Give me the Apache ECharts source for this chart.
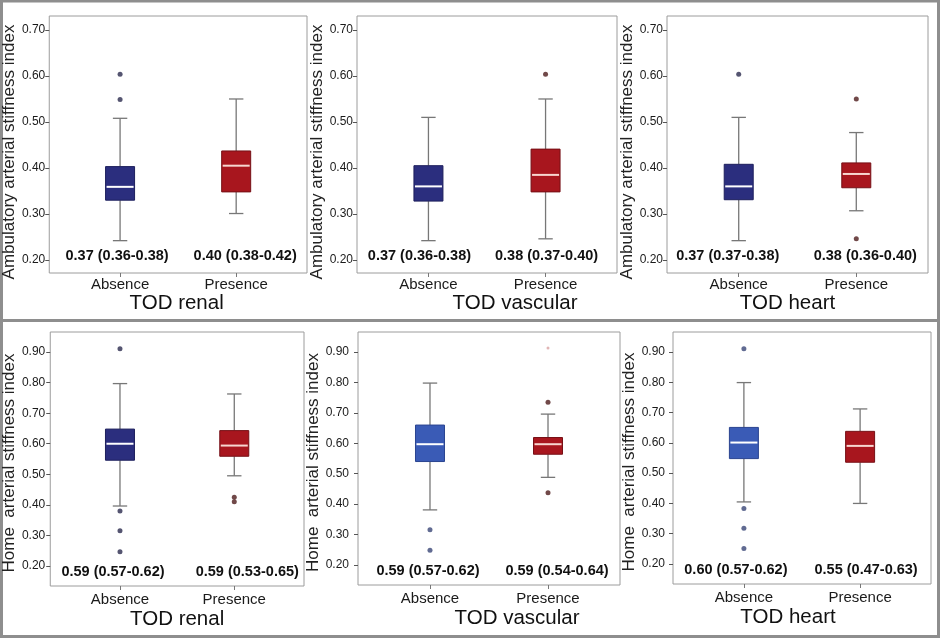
<!DOCTYPE html>
<html><head><meta charset="utf-8">
<script src="https://cdn.jsdelivr.net/npm/echarts@6/dist/echarts.min.js"></script>
<style>html,body{margin:0;padding:0;background:#fff}#c{width:944px;height:641px}</style>
</head><body><div id="c"></div>
<script>
// ---------------- DATA ----------------
const categories = ['Absence', 'Presence'];
const panelTitles = ['TOD renal', 'TOD vascular', 'TOD heart', 'TOD renal', 'TOD vascular', 'TOD heart'];
const yTitleAmbulatory = 'Ambulatory arterial stiffness index';
const yTitleHome = 'Home  arterial stiffness index';
const yTicksAmbulatory = [0.20, 0.30, 0.40, 0.50, 0.60, 0.70];
const yTicksHome = [0.20, 0.30, 0.40, 0.50, 0.60, 0.70, 0.80, 0.90];

// box stats per category: [min, Q1, median, Q3, max]
const ambRenalBox = [[0.242, 0.330, 0.359, 0.403, 0.508], [0.301, 0.348, 0.405, 0.437, 0.550]];
const ambRenalOutliers = [[0.549, 0.604], []];
const ambRenalLabels = ['0.37 (0.36-0.38)', '0.40 (0.38-0.42)'];

const ambVascularBox = [[0.242, 0.328, 0.360, 0.405, 0.510], [0.246, 0.348, 0.385, 0.441, 0.550]];
const ambVascularOutliers = [[], [0.604]];
const ambVascularLabels = ['0.37 (0.36-0.38)', '0.38 (0.37-0.40)'];

const ambHeartBox = [[0.242, 0.331, 0.360, 0.408, 0.510], [0.307, 0.357, 0.387, 0.411, 0.477]];
const ambHeartOutliers = [[0.604], [0.246, 0.550]];
const ambHeartLabels = ['0.37 (0.37-0.38)', '0.38 (0.36-0.40)'];

const homeRenalBox = [[0.396, 0.546, 0.600, 0.648, 0.797], [0.495, 0.559, 0.594, 0.643, 0.763]];
const homeRenalOutliers = [[0.911, 0.380, 0.315, 0.246], [0.425, 0.410]];
const homeRenalLabels = ['0.59 (0.57-0.62)', '0.59 (0.53-0.65)'];

const homeVascularBox = [[0.381, 0.540, 0.597, 0.660, 0.798], [0.488, 0.564, 0.597, 0.619, 0.696]];
const homeVascularOutliers = [[0.316, 0.248], [0.735, 0.437]];
const homeVascularExtremes = [[], [0.913]];
const homeVascularLabels = ['0.59 (0.57-0.62)', '0.59 (0.54-0.64)'];

const homeHeartBox = [[0.405, 0.548, 0.601, 0.651, 0.799], [0.400, 0.536, 0.590, 0.638, 0.712]];
const homeHeartOutliers = [[0.911, 0.383, 0.318, 0.251], []];
const homeHeartLabels = ['0.60 (0.57-0.62)', '0.55 (0.47-0.63)'];

// ---------------- LAYOUT / STYLE ----------------
const NAVY = '#2b2e7e', NAVY_EDGE = '#1d1f5c';
const LBLUE = '#3a5bb6', LBLUE_EDGE = '#2a4490';
const RED = '#a8161e', RED_EDGE = '#761016';
const FONT = 'Liberation Sans, Arial, sans-serif';

const panels = [
  {box: ambRenalBox, out: ambRenalOutliers, ext: [[], []], labels: ambRenalLabels, yTitle: yTitleAmbulatory, ticks: yTicksAmbulatory, row: 0, absFill: NAVY, absEdge: NAVY_EDGE},
  {box: ambVascularBox, out: ambVascularOutliers, ext: [[], []], labels: ambVascularLabels, yTitle: yTitleAmbulatory, ticks: yTicksAmbulatory, row: 0, absFill: NAVY, absEdge: NAVY_EDGE},
  {box: ambHeartBox, out: ambHeartOutliers, ext: [[], []], labels: ambHeartLabels, yTitle: yTitleAmbulatory, ticks: yTicksAmbulatory, row: 0, absFill: NAVY, absEdge: NAVY_EDGE},
  {box: homeRenalBox, out: homeRenalOutliers, ext: [[], []], labels: homeRenalLabels, yTitle: yTitleHome, ticks: yTicksHome, row: 1, absFill: NAVY, absEdge: NAVY_EDGE},
  {box: homeVascularBox, out: homeVascularOutliers, ext: homeVascularExtremes, labels: homeVascularLabels, yTitle: yTitleHome, ticks: yTicksHome, row: 1, absFill: LBLUE, absEdge: LBLUE_EDGE},
  {box: homeHeartBox, out: homeHeartOutliers, ext: [[], []], labels: homeHeartLabels, yTitle: yTitleHome, ticks: yTicksHome, row: 1, absFill: LBLUE, absEdge: LBLUE_EDGE}
];
const gridRects = [[47, 16, 260, 257], [357, 16, 260, 257], [667, 16, 261, 257],
                   [48, 332, 256, 254], [358, 332, 262, 253], [673, 332, 258, 252]];
const yRanges = [[0.1717, 0.7304], [0.134, 0.966]];
const xRange = [0.39, 2.61];
const labelMargins = [4, 4, 4, 5, 9, 8];
const yNameGaps = [27.5, 27.5, 27.5, 28, 34, 33];
const yNamePad = [[0, 15, 0, 0], [0, 8, 0, 0]];
const xNamePad = [[0, 3, 0, 0], [0, 0, 0, 56], [0, 20, 0, 0], [0, 0, 0, 0], [0, 0, 0, 56], [0, 28, 0, 0]];
const xNameGap = [20, 23];
const xLabelMargin = [4, 6];
const sumLabelShift = [[-3, 9], [-9, 1], [-11, 9], [-7, 13], [-2, 9], [-8, 6]];
const sumLabelOffset = [17.5, 14];

function makeRender(p, pi) {
  const fills = [p.absFill, RED], edges = [p.absEdge, RED_EDGE], meds = ['#ffffff', '#f7d6d0'];
  return function (params, api) {
    const i = params.dataIndex;
    const x = api.value(0);
    const cx = api.coord([x, api.value(1)])[0];
    const yMin = api.coord([x, api.value(1)])[1];
    const yQ1 = api.coord([x, api.value(2)])[1];
    const yMed = api.coord([x, api.value(3)])[1];
    const yQ3 = api.coord([x, api.value(4)])[1];
    const yMax = api.coord([x, api.value(5)])[1];
    const cs = params.coordSys;
    const hw = 14.5, cap = 7.2;
    const wst = {stroke: '#777777', lineWidth: 1.3};
    return {type: 'group', children: [
      {type: 'line', shape: {x1: cx, y1: yMax, x2: cx, y2: yQ3}, style: wst},
      {type: 'line', shape: {x1: cx, y1: yQ1, x2: cx, y2: yMin}, style: wst},
      {type: 'line', shape: {x1: cx - cap, y1: yMax, x2: cx + cap, y2: yMax}, style: wst},
      {type: 'line', shape: {x1: cx - cap, y1: yMin, x2: cx + cap, y2: yMin}, style: wst},
      {type: 'rect', shape: {x: cx - hw, y: yQ3, width: 2 * hw, height: yQ1 - yQ3}, style: {fill: fills[i], stroke: edges[i], lineWidth: 1}},
      {type: 'line', shape: {x1: cx - hw + 1, y1: yMed, x2: cx + hw - 1, y2: yMed}, style: {stroke: meds[i], lineWidth: 2}},
      {type: 'text', style: {text: p.labels[i], x: cx + sumLabelShift[pi][i], y: cs.y + cs.height - sumLabelOffset[p.row],
        align: 'center', verticalAlign: 'middle', fontSize: 14.5, fontWeight: 'bold', fontFamily: FONT, fill: '#111'}}
    ]};
  };
}

const grids = [], xAxes = [], yAxes = [], series = [];
panels.forEach(function (p, pi) {
  const r = gridRects[pi];
  grids.push({left: r[0], top: r[1], width: r[2], height: r[3], show: true, borderColor: '#9c9c9c', borderWidth: 1, backgroundColor: 'transparent'});
  xAxes.push({
    gridIndex: pi, type: 'value', min: xRange[0], max: xRange[1],
    axisLine: {show: false}, splitLine: {show: false},
    axisTick: {show: true, length: 4, customValues: [1, 2], lineStyle: {color: '#777'}},
    axisLabel: {customValues: [1, 2], formatter: function (v) { return categories[Math.round(v) - 1]; },
      fontSize: 15, color: '#1a1a1a', fontFamily: FONT, margin: xLabelMargin[p.row]},
    name: panelTitles[pi], nameLocation: 'middle', nameGap: xNameGap[p.row],
    nameTextStyle: {fontSize: 20.5, color: '#111', fontFamily: FONT, padding: xNamePad[pi]}
  });
  yAxes.push({
    gridIndex: pi, type: 'value', min: yRanges[p.row][0], max: yRanges[p.row][1],
    axisLine: {show: false}, splitLine: {show: false},
    axisTick: {show: true, length: 4, customValues: p.ticks, lineStyle: {color: '#555'}},
    axisLabel: {customValues: p.ticks, formatter: function (v) { return v.toFixed(2); },
      fontSize: 12, color: '#1a1a1a', fontFamily: FONT, margin: labelMargins[pi]},
    name: p.yTitle, nameLocation: 'middle', nameGap: yNameGaps[pi],
    nameTextStyle: {fontSize: 17, color: '#222', fontFamily: FONT, padding: yNamePad[p.row]}
  });
  series.push({
    type: 'custom', xAxisIndex: pi, yAxisIndex: pi, renderItem: makeRender(p, pi),
    encode: {x: 0, y: [1, 2, 3, 4, 5]},
    data: p.box.map(function (b, c) { return [c + 1].concat(b); })
  });
  [0, 1].forEach(function (c) {
    series.push({
      type: 'scatter', xAxisIndex: pi, yAxisIndex: pi, symbol: 'circle', symbolSize: 5,
      itemStyle: {color: c === 0 ? (p.absFill === LBLUE ? '#3a4677' : '#2a2a4e') : '#4e1c1c'},
      data: p.out[c].map(function (v) { return [c + 1, v]; })
    });
    series.push({
      type: 'scatter', xAxisIndex: pi, yAxisIndex: pi, symbol: 'circle', symbolSize: 3,
      itemStyle: {color: '#d9a3a3'},
      data: p.ext[c].map(function (v) { return [c + 1, v]; })
    });
  });
});

const chart = echarts.init(document.getElementById('c'), null, {renderer: 'canvas'});
chart.setOption({
  animation: false,
  backgroundColor: '#ffffff',
  grid: grids, xAxis: xAxes, yAxis: yAxes, series: series,
  graphic: [
    {type: 'rect', shape: {x: 1.5, y: 1, width: 937, height: 635.5}, style: {fill: 'none', stroke: '#8e8e8e', lineWidth: 3}, silent: true},
    {type: 'line', shape: {x1: 0, y1: 320.5, x2: 940, y2: 320.5}, style: {stroke: '#8e8e8e', lineWidth: 3}, silent: true}
  ]
});
</script></body></html>
